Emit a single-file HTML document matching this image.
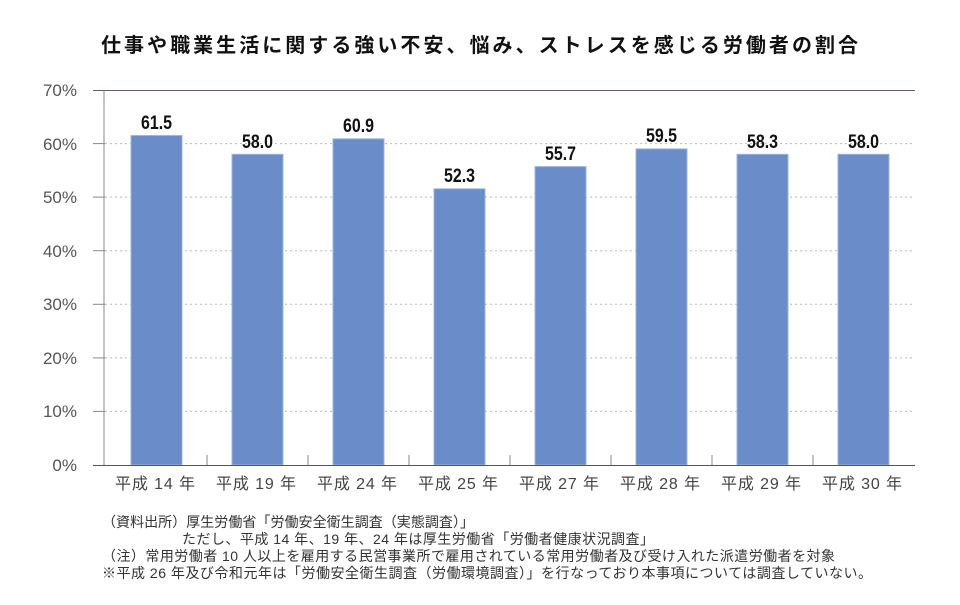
<!DOCTYPE html>
<html><head><meta charset="utf-8"><style>
body{margin:0;background:#fff;}
svg text{font-family:"Liberation Sans","Noto Sans CJK JP",sans-serif;}
</style></head><body>
<svg width="960" height="600" xmlns="http://www.w3.org/2000/svg">
<text x="101" y="52" textLength="757" lengthAdjust="spacing" font-size="20" font-weight="bold" fill="#111">仕事や職業生活に関する強い不安、悩み、ストレスを感じる労働者の割合</text>
<g stroke="#bbb" stroke-dasharray="2,3" stroke-width="1">
<line x1="105" x2="915" y1="143.6" y2="143.6"/>
<line x1="105" x2="915" y1="197.1" y2="197.1"/>
<line x1="105" x2="915" y1="250.7" y2="250.7"/>
<line x1="105" x2="915" y1="304.3" y2="304.3"/>
<line x1="105" x2="915" y1="357.9" y2="357.9"/>
<line x1="105" x2="915" y1="411.4" y2="411.4"/>
</g>
<line x1="93" x2="915" y1="90.5" y2="90.5" stroke="#6b5a5a" stroke-width="1"/>
<g stroke="#888" stroke-width="1">
<line x1="93" x2="105" y1="143.6" y2="143.6"/><line x1="93" x2="105" y1="197.1" y2="197.1"/>
<line x1="93" x2="105" y1="250.7" y2="250.7"/><line x1="93" x2="105" y1="304.3" y2="304.3"/>
<line x1="93" x2="105" y1="357.9" y2="357.9"/><line x1="93" x2="105" y1="411.4" y2="411.4"/>
<line x1="104" x2="104" y1="90" y2="465"/>
<line x1="207" x2="207" y1="455" y2="465"/><line x1="308" x2="308" y1="455" y2="465"/>
<line x1="409" x2="409" y1="455" y2="465"/><line x1="510" x2="510" y1="455" y2="465"/>
<line x1="611" x2="611" y1="455" y2="465"/><line x1="712" x2="712" y1="455" y2="465"/>
<line x1="813" x2="813" y1="455" y2="465"/>
</g>
<g fill="#6a8cc8" stroke="#9fb5de" stroke-width="1">
<rect x="131" y="135.5" width="51" height="329.5"/>
<rect x="232" y="154.3" width="51" height="310.7"/>
<rect x="333" y="138.8" width="51" height="326.2"/>
<rect x="434" y="188.8" width="51" height="276.2"/>
<rect x="535" y="166.6" width="51" height="298.4"/>
<rect x="636" y="148.9" width="51" height="316.1"/>
<rect x="737" y="154.3" width="51" height="310.7"/>
<rect x="838" y="154.3" width="51" height="310.7"/>
</g>
<line x1="93" x2="915" y1="465.5" y2="465.5" stroke="#555" stroke-width="1"/>
<g font-size="17" fill="#555" text-anchor="end">
<text x="77" y="96">70%</text><text x="77" y="150">60%</text><text x="77" y="203">50%</text>
<text x="77" y="257">40%</text><text x="77" y="310">30%</text><text x="77" y="364">20%</text>
<text x="77" y="417">10%</text><text x="77" y="471">0%</text>
</g>
<g font-size="19" font-weight="bold" fill="#111" lengthAdjust="spacingAndGlyphs">
<text x="141" y="129" textLength="31" lengthAdjust="spacingAndGlyphs">61.5</text>
<text x="242" y="148" textLength="31" lengthAdjust="spacingAndGlyphs">58.0</text>
<text x="343" y="132" textLength="31" lengthAdjust="spacingAndGlyphs">60.9</text>
<text x="444" y="182" textLength="31" lengthAdjust="spacingAndGlyphs">52.3</text>
<text x="545" y="160" textLength="31" lengthAdjust="spacingAndGlyphs">55.7</text>
<text x="646" y="142" textLength="31" lengthAdjust="spacingAndGlyphs">59.5</text>
<text x="747" y="148" textLength="31" lengthAdjust="spacingAndGlyphs">58.3</text>
<text x="848" y="148" textLength="31" lengthAdjust="spacingAndGlyphs">58.0</text>
</g>
<g font-size="16" fill="#444">
<text x="115" y="489" textLength="80">平成 14 年</text><text x="216" y="489" textLength="80">平成 19 年</text>
<text x="317" y="489" textLength="80">平成 24 年</text><text x="418" y="489" textLength="80">平成 25 年</text>
<text x="519" y="489" textLength="80">平成 27 年</text><text x="620" y="489" textLength="80">平成 28 年</text>
<text x="721" y="489" textLength="80">平成 29 年</text><text x="822" y="489" textLength="80">平成 30 年</text>
</g>
<g font-size="14" fill="#333">
<text x="102" y="527" textLength="372">（資料出所）厚生労働省「労働安全衛生調査（実態調査）」</text>
<text x="182" y="544" textLength="472">ただし、平成 14 年、19 年、24 年は厚生労働省「労働者健康状況調査」</text>
<text x="102" y="561" textLength="733">（注）常用労働者 10 人以上を雇用する民営事業所で雇用されている常用労働者及び受け入れた派遣労働者を対象</text>
<text x="102" y="578" textLength="770">※平成 26 年及び令和元年は「労働安全衛生調査（労働環境調査）」を行なっており本事項については調査していない。</text>
</g>
</svg>
</body></html>
